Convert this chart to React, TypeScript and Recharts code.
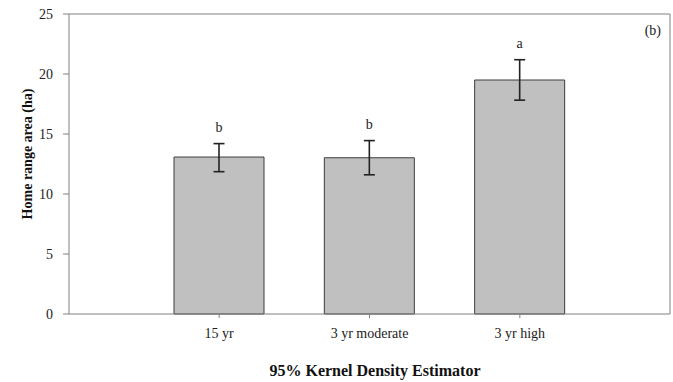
import {
  BarChart,
  Bar,
  XAxis,
  YAxis,
  ErrorBar,
  LabelList,
  CartesianGrid,
  ReferenceLine,
} from "recharts";

// values (panel b, 95% KDE home ranges)
const categories = ["15 yr", "3 yr moderate", "3 yr high"];
const means = [13.08, 13.02, 19.5];
const lower = [11.86, 11.6, 17.82];
const upper = [14.2, 14.45, 21.19];
const letters = ["b", "b", "a"];
const yTicks = [0, 5, 10, 15, 20, 25];

const FONT = "'Liberation Serif', 'Times New Roman', serif";
const AXIS_GRAY = "#808080";

const data = categories.map((name, i) => ({
  name,
  mean: means[i],
  err: [means[i] - lower[i], upper[i] - means[i]],
  letter: letters[i],
}));

function LetterLabel(props: any) {
  const { x, y, width, height, value, index } = props;
  // px per unit from the bar itself, so the letter sits above the error cap
  const perUnit = height / means[index];
  const capTop = y - (upper[index] - means[index]) * perUnit;
  return (
    <text
      x={x + width / 2}
      y={capTop - 17 + 5}
      textAnchor="middle"
      fontFamily={FONT}
      fontSize={14}
      fill="#222"
    >
      {value}
    </text>
  );
}

function XTitle(props: any) {
  const vb = props.viewBox;
  return (
    <text
      x={375}
      y={vb.y + 62}
      textAnchor="middle"
      fontFamily={FONT}
      fontSize={16}
      fontWeight="bold"
      fill="#111"
    >
      95% Kernel Density Estimator
    </text>
  );
}

function YTitle(props: any) {
  const vb = props.viewBox;
  const cy = vb.y + vb.height / 2 - 10;
  return (
    <text
      x={32}
      y={cy}
      textAnchor="middle"
      transform={`rotate(-90, 32, ${cy})`}
      fontFamily={FONT}
      fontSize={14}
      fontWeight="bold"
      fill="#111"
    >
      Home range area (ha)
    </text>
  );
}

function PanelTag(props: any) {
  const vb = props.viewBox;
  return (
    <text
      x={vb.x + vb.width - 9}
      y={vb.y + 21}
      textAnchor="end"
      fontFamily={FONT}
      fontSize={14}
      fill="#222"
    >
      (b)
    </text>
  );
}

export default function App() {
  return (
    <div style={{ position: "fixed", left: 0, top: 0, width: 673, height: 382, background: "#fff" }}>
      <BarChart
        width={673}
        height={382}
        data={data}
        margin={{ top: 14, right: 3, left: 0, bottom: 0 }}
        style={{ fontFamily: FONT }}
      >
        {/* right edge of the plot frame */}
        <CartesianGrid
          horizontal={false}
          stroke={AXIS_GRAY}
          strokeDasharray=""
          verticalCoordinatesGenerator={({ offset }: any) => [offset.left + offset.width]}
        />
        <XAxis
          dataKey="name"
          height={68}
          padding={{ left: 75, right: 75 }}
          stroke={AXIS_GRAY}
          tickSize={4}
          tickMargin={10}
          tick={{ fill: "#222", fontSize: 14, fontFamily: FONT }}
          label={<XTitle />}
        />
        <YAxis
          width={69}
          domain={[0, 25]}
          ticks={yTicks}
          interval={0}
          stroke={AXIS_GRAY}
          tickSize={6}
          tickMargin={10}
          tick={{ fill: "#222", fontSize: 14, fontFamily: FONT }}
          label={<YTitle />}
        />
        {/* top edge of the frame, carries the panel tag */}
        <ReferenceLine y={25} stroke={AXIS_GRAY} label={<PanelTag />} />
        <Bar
          dataKey="mean"
          barSize={90}
          fill="#c0c0c0"
          stroke="#3c3c3c"
          strokeWidth={1}
          isAnimationActive={false}
        >
          <ErrorBar dataKey="err" width={5.5} stroke="#222" strokeWidth={1.6} />
          <LabelList dataKey="letter" content={<LetterLabel />} />
        </Bar>
      </BarChart>
    </div>
  );
}
